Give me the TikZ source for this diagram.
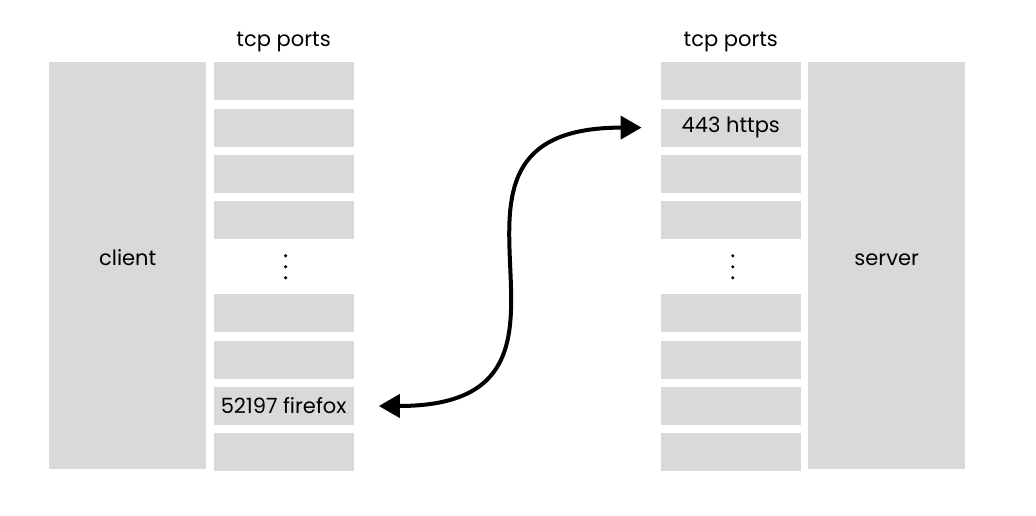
\documentclass[tikz,border=0pt]{standalone}
\usepackage{fontspec}
\setmainfont{Poppins}
\usetikzlibrary{
  arrows.meta,
  positioning,
}
\definecolor{slotgray}{HTML}{D9D9D9}
\tikzset{
  host/.style={
    rectangle,
    minimum width=157pt,
    minimum height=407pt,
    inner sep=0pt,
    text height=16pt,
    text depth=16pt,
    text centered,
    fill=slotgray
  },
  port/.style={
    rectangle,
    minimum width=140pt,
    minimum height=38pt,
    inner sep=0pt,
    text centered,
    fill=slotgray
  },
  gap/.style={
    rectangle,
    minimum width=140pt,
    minimum height=38pt,
    inner sep=0pt,
  },
  heading/.style={
    inner sep=0pt,
  },
  arrow/.style={
    line width=4pt,
    {Triangle[length=21pt,width=23pt]}-{Triangle[length=21pt,width=23pt]},
  },
}

\begin{document}
\begin{tikzpicture}[x=1pt, y=-1pt, node distance=8pt and 7pt,
  font=\fontsize{21}{25}\selectfont]

  \useasboundingbox (0,0) rectangle (1036,516);

  % client side
  \node[host, anchor=north west] (client) at (49,62) {client};

  \node[port, right=of client.north east, anchor=north west] (cp1) {};
  \node[port, below=of cp1] (cp2) {};
  \node[port, below=of cp2] (cp3) {};
  \node[port, below=of cp3] (cp4) {};
  \node[gap, below=of cp4] (cdots) {};
  \node[port, below=of cdots] (cp6) {};
  \node[port, below=of cp6] (cp7) {};
  \node[port, below=of cp7] (cp8) {52197 firefox};
  \node[port, below=of cp8] (cp9) {};

  \node[heading, above=10pt of cp1] (ctitle) {tcp ports};

  % server side
  \node[host, anchor=north west] (server) at (808,62) {server};

  \node[port, left=of server.north west, anchor=north east] (sp1) {};
  \node[port, below=of sp1] (sp2) {443 https};
  \node[port, below=of sp2] (sp3) {};
  \node[port, below=of sp3] (sp4) {};
  \node[gap, below=of sp4] (sdots) {};
  \node[port, below=of sdots] (sp6) {};
  \node[port, below=of sp6] (sp7) {};
  \node[port, below=of sp7] (sp8) {};
  \node[port, below=of sp8] (sp9) {};

  \node[heading, above=10pt of sp1] (stitle) {tcp ports};

  % ellipsis dots in the skipped slots
  \foreach \dy in {-11,0,11} {
    \fill ([xshift=2pt, yshift=\dy pt]cdots.center) circle (1.7pt);
    \fill ([xshift=2pt, yshift=\dy pt]sdots.center) circle (1.7pt);
  }

  % connection
  \draw[arrow, shorten <=25pt, shorten >=19pt]
    (cp8.east) .. controls +(280,0) and +(-274,0) .. (sp2.west);

\end{tikzpicture}
\end{document}
